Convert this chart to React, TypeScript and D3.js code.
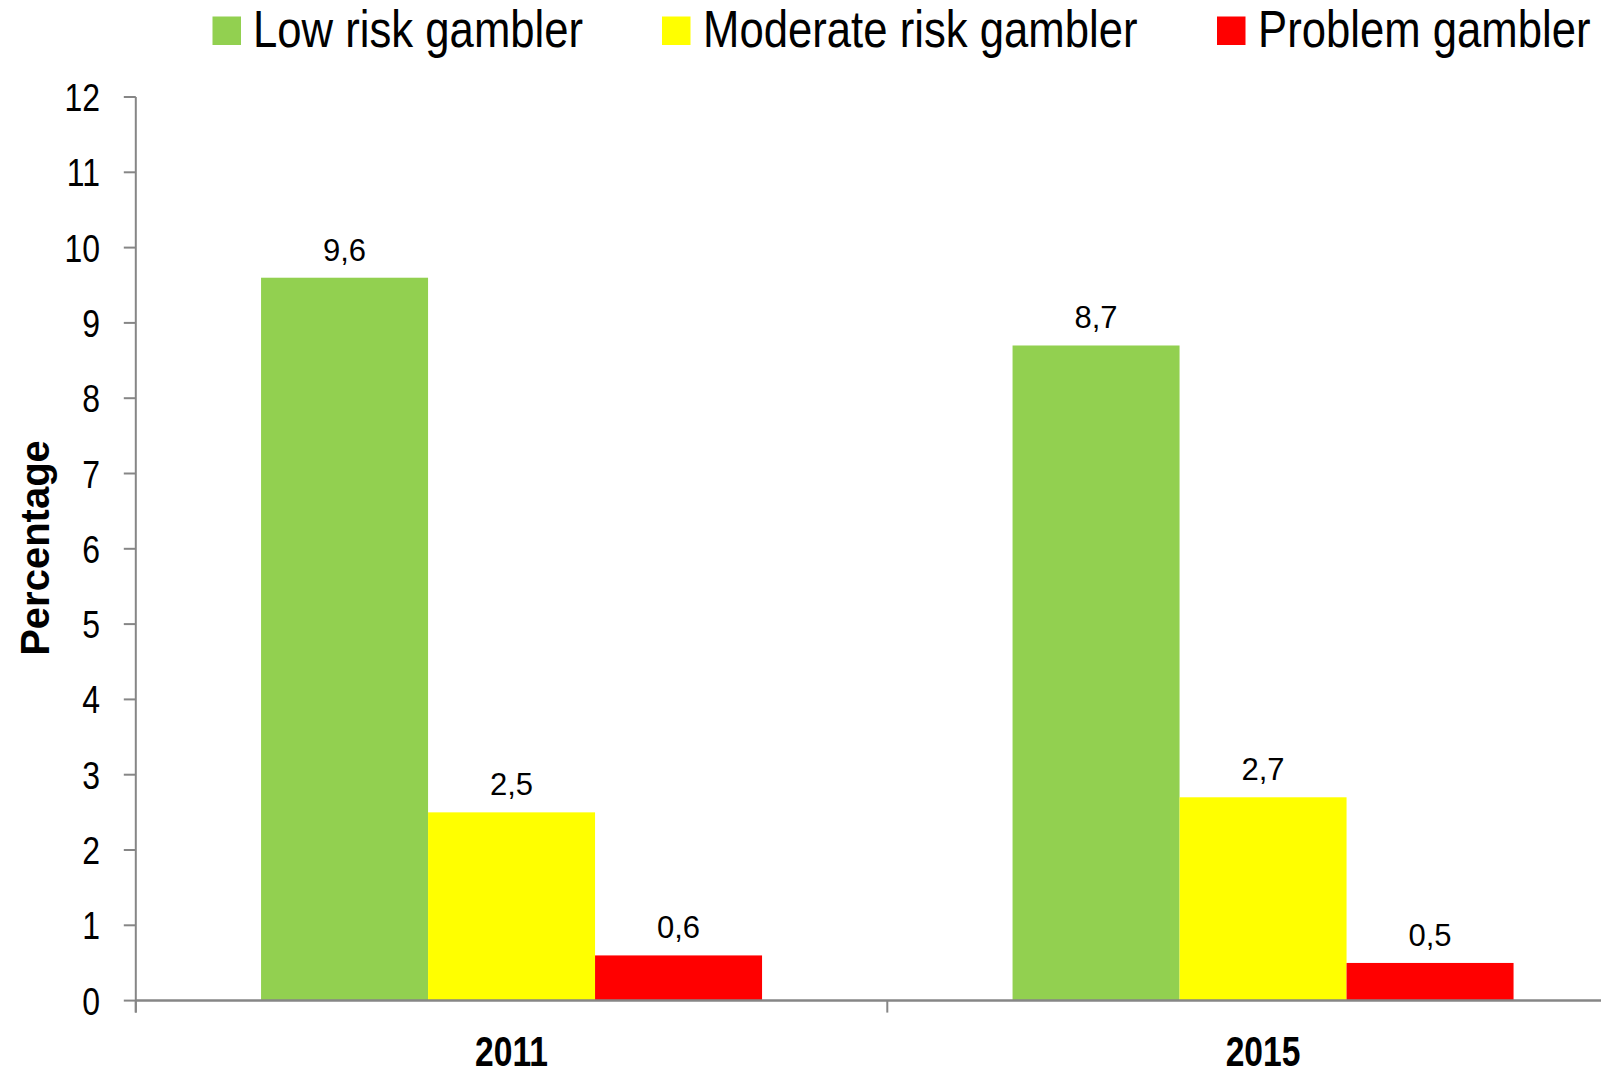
import React from "react";
import * as d3 from "d3";

const years = ["2011", "2015"];
const seriesNames = ["Low risk gambler", "Moderate risk gambler", "Problem gambler"];
const seriesColors = ["#92D050", "#FFFF00", "#FF0000"];
const lowRisk = [9.6, 8.7];
const moderateRisk = [2.5, 2.7];
const problem = [0.6, 0.5];
const yTicks = [0, 1, 2, 3, 4, 5, 6, 7, 8, 9, 10, 11, 12];

const W = 1601;
const H = 1074;
const SANS = "'Liberation Sans', Arial, sans-serif";

export default function App() {
  const left = 135.8;
  const bandW = 751.5;
  const y0 = 1000.6;
  const yTop = 97;
  const x = d3.scaleBand<string>().domain(years).range([left, left + bandW * 2]).paddingInner(0).paddingOuter(0);
  const y = d3.scaleLinear().domain([0, 12]).range([y0, yTop]);
  const barW = bandW / 4.5;
  const gap = (bandW - 3 * barW) / 2;
  const series = [lowRisk, moderateRisk, problem];
  const fmt = (v: number) => v.toFixed(1).replace(".", ",");
  const axisColor = "#868686";

  const legendItems = [
    { sq: 212.5, tx: 253 },
    { sq: 662, tx: 703 },
    { sq: 1217, tx: 1258 },
  ];

  return (
    <svg width={W} height={H} style={{ position: "absolute", left: 0, top: 0, background: "#fff" }}>
      {/* bars */}
      {years.map((yr, i) =>
        series.map((s, j) => {
          const bx = (x(yr) as number) + gap + j * barW;
          return (
            <g key={yr + j}>
              <rect x={bx} y={y(s[i])} width={barW} height={y0 - y(s[i])} fill={seriesColors[j]} />
              <text x={bx + barW / 2} y={y(s[i]) - 17} textAnchor="middle" fontFamily={SANS} fontSize={31} fill="#000">
                {fmt(s[i])}
              </text>
            </g>
          );
        })
      )}
      {/* y axis */}
      <line x1={left} x2={left} y1={yTop} y2={y0 + 12} stroke={axisColor} strokeWidth={2} />
      {yTicks.map((t) => (
        <g key={t}>
          <line x1={left - 12} x2={left} y1={y(t)} y2={y(t)} stroke={axisColor} strokeWidth={2} />
          <text transform={`translate(100,${y(t) + 14}) scale(0.82,1)`} textAnchor="end" fontFamily={SANS} fontSize={39} fill="#000">
            {t}
          </text>
        </g>
      ))}
      {/* x axis */}
      <line x1={left} x2={W} y1={y0} y2={y0} stroke={axisColor} strokeWidth={2.5} />
      {[0, 1].map((k) => (
        <line key={k} x1={left + k * bandW} x2={left + k * bandW} y1={y0} y2={y0 + 12} stroke={axisColor} strokeWidth={2} />
      ))}
      {years.map((yr) => (
        <text key={yr} transform={`translate(${(x(yr) as number) + bandW / 2},1066) scale(0.8,1)`} textAnchor="middle" fontFamily={SANS} fontWeight="bold" fontSize={42} fill="#000">
          {yr}
        </text>
      ))}
      {/* y title */}
      <text transform="translate(49,548) rotate(-90)" textAnchor="middle" fontFamily={SANS} fontWeight="bold" fontSize={40} fill="#000">
        Percentage
      </text>
      {/* legend */}
      {seriesNames.map((name, j) => (
        <g key={name}>
          <rect x={legendItems[j].sq} y={16.5} width={28.5} height={28.5} fill={seriesColors[j]} />
          <text transform={`translate(${legendItems[j].tx},47) scale(0.84,1)`} fontFamily={SANS} fontSize={52} fill="#000">
            {name}
          </text>
        </g>
      ))}
    </svg>
  );
}
